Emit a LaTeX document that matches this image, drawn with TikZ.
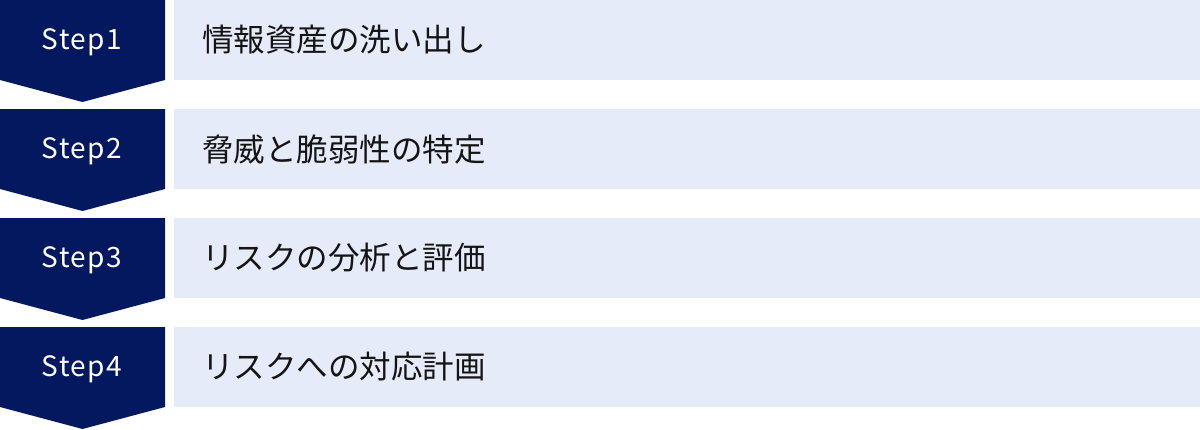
\documentclass[tikz,border=0pt]{standalone}
\usepackage{fontspec}
\setmainfont{Noto Sans}
\newfontfamily\stepfont[LetterSpace=5]{Noto Sans CJK JP}
\newfontfamily\jpfont{Noto Sans CJK JP}
\definecolor{navy}{RGB}{4,24,96}
\definecolor{paleblue}{RGB}{229,235,248}
\definecolor{txtdark}{RGB}{20,20,20}
\tikzset{
  stepshape/.style={fill=navy},
  textbox/.style={fill=paleblue},
  steplabel/.style={text=white,font=\stepfont\fontsize{28}{32}\selectfont,inner sep=0pt,anchor=base},
  itemlabel/.style={text=txtdark,font=\jpfont\fontsize{31.5}{36}\selectfont,inner sep=0pt,anchor=west}
}
\begin{document}
\begin{tikzpicture}[x=1pt,y=-1pt]
\useasboundingbox (0,0) rectangle (1200,429);
\foreach \i/\lab/\txt in {0/Step1/情報資産の洗い出し,1/Step2/脅威と脆弱性の特定,2/Step3/リスクの分析と評価,3/Step4/リスクへの対応計画}{
  \pgfmathsetmacro{\t}{\i*109}
  \fill[stepshape] (0,\t) -- (165,\t) -- (165,\t+80) -- (82.5,\t+102) -- (0,\t+80) -- cycle;
  \fill[textbox] (174,\t) rectangle (1200,\t+80);
  \node[steplabel] (s\i) at (82,\t+49) {\lab};
  \node[itemlabel] (t\i) at (202,\t+40) {\txt};
}
\end{tikzpicture}
\end{document}
